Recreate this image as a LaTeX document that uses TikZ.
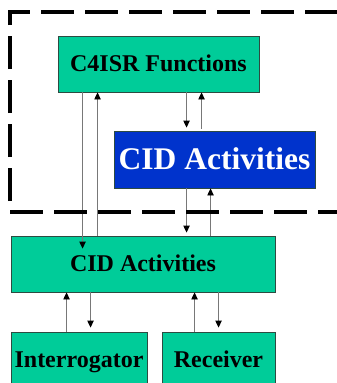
\documentclass[tikz,border=0pt]{standalone}
\usepackage{fontspec}
\setmainfont{Liberation Serif}
\usetikzlibrary{arrows.meta}
\definecolor{boxgreen}{RGB}{0,204,153}
\definecolor{boxblue}{RGB}{0,51,204}
\definecolor{boxedge}{RGB}{45,75,65}
\definecolor{linegray}{RGB}{120,120,120}
\tikzset{
  box/.style={draw=boxedge, line width=0.9pt, fill=boxgreen, inner sep=0pt,
    font=\fontsize{24}{24}\selectfont\bfseries, text height=15.9pt, text depth=0pt},
  bluebox/.style={box, fill=boxblue, text=white,
    font=\fontsize{31.5}{32}\selectfont\bfseries, text height=20.9pt},
  conn/.style={draw=linegray, line width=0.9pt,
    -{Triangle[length=7pt,width=6.5pt,color=black,fill=black]}},
  dashrect/.style={line width=3.6pt, dash pattern=on 33pt off 11pt, line join=miter, line cap=butt}
}
\begin{document}
\begin{tikzpicture}[x=1pt,y=-1pt]
\useasboundingbox (0,0) rectangle (337,383);
\clip (0,0) rectangle (337,383);
% boxes
\node[box, minimum width=201pt, minimum height=56pt] (c4) at (158.5,64) {C4ISR Functions};
\node[bluebox, minimum width=201pt, minimum height=57pt] (cidb) at (214.5,159.5) {CID Activities};
\node[box, minimum width=264pt, minimum height=56pt] (cid) at (143,264) {CID Activities};
\node[box, minimum width=136pt, minimum height=56pt] (intr) at (79,360) {Interrogator};
\node[box, minimum width=113pt, minimum height=56pt] (rec) at (218.5,360) {Receiver};
% connectors
\draw[conn] ([xshift=25pt]c4.south west) -- ([xshift=72pt,yshift=-13pt]cid.north west);
\draw[conn] ([xshift=87pt]cid.north west) -- ([xshift=40pt]c4.south west);
\draw[conn, shorten >=3pt] ([xshift=129pt]c4.south west) -- ([xshift=73pt]cidb.north west);
\draw[conn] ([xshift=88pt,yshift=2pt]cidb.north west) -- ([xshift=144pt]c4.south west);
\draw[conn, shorten >=3pt] ([xshift=73pt]cidb.south west) -- ([xshift=176pt]cid.north west);
\draw[conn] ([xshift=200pt]cid.north west) -- ([xshift=97pt]cidb.south west);
\draw[conn] ([xshift=56pt]intr.north west) -- ([xshift=56pt]cid.south west);
\draw[conn, shorten >=4pt] ([xshift=80pt]cid.south west) -- ([xshift=80pt]intr.north west);
\draw[conn] ([xshift=33pt]rec.north west) -- ([xshift=184pt]cid.south west);
\draw[conn, shorten >=4pt] ([xshift=208pt]cid.south west) -- ([xshift=57pt]rec.north west);
% dashed enclosure
\draw[dashrect, dash phase=33pt] (10,212) -- (10,12) -- (352,12) -- (352,212);
\draw[dashrect] (10,212) -- (352,212);
\end{tikzpicture}
\end{document}
